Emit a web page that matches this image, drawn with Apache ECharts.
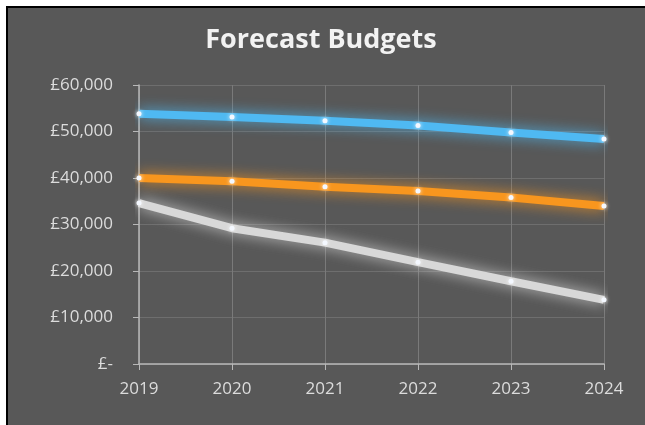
<!DOCTYPE html>
<html><head><meta charset="utf-8">
<script src="https://cdn.jsdelivr.net/npm/echarts@6/dist/echarts.min.js"></script>
<style>html,body{margin:0;padding:0;background:#fff;}#c{width:645px;height:425px;}</style>
</head><body><div id="c"></div>
<script>
const years = ['2019','2020','2021','2022','2023','2024'];
const blueSeries = [53800, 53100, 52300, 51300, 49800, 48400];
const orangeSeries = [40000, 39300, 38100, 37200, 35800, 34000];
const whiteSeries = [34600, 29200, 26100, 21900, 17800, 13800];
const yTicks = [0, 10000, 20000, 30000, 40000, 50000, 60000];

const chart = echarts.init(document.getElementById('c'), null, {renderer:'canvas'});
function mk(name, data, color, glow){
  return {
    name, type:'line', data, symbol:'circle', symbolSize:5,
    itemStyle:{color:'#f4f8ff', shadowColor:'#ffffff', shadowBlur:4},
    lineStyle:{color, width:8, shadowColor:glow, shadowBlur:14},
    z: 3
  };
}
chart.setOption({
  backgroundColor:'#585858',
  animation:false,
  graphic:[
    {type:'rect', shape:{x:0,y:0,width:645,height:6}, style:{fill:'#fff'}, z:100},
    {type:'rect', shape:{x:0,y:0,width:6,height:425}, style:{fill:'#fff'}, z:100},
    {type:'rect', shape:{x:6,y:6,width:639,height:2}, style:{fill:'#000'}, z:100},
    {type:'rect', shape:{x:6,y:6,width:2,height:419}, style:{fill:'#000'}, z:100}
  ],
  title:{text:'Forecast Budgets', left:316, top:22, textAlign:'center',
    textStyle:{color:'#f2f2f2', fontFamily:'Open Sans', fontWeight:'bold', fontSize:27}},
  grid:{left:139, right:41, top:85, bottom:61},
  xAxis:{type:'category', data:years, boundaryGap:false,
    axisLine:{lineStyle:{color:'#b8b8b8', width:1.5}},
    axisTick:{show:true, length:6, lineStyle:{color:'#b8b8b8'}},
    axisLabel:{color:'#dcdcdc', fontSize:17, fontFamily:'Open Sans', margin:17},
    splitLine:{show:true, lineStyle:{color:'#7a7a7a', width:1}}},
  yAxis:{type:'value', min:yTicks[0], max:yTicks[yTicks.length-1], interval:10000,
    axisLine:{show:true, lineStyle:{color:'#b8b8b8', width:1.5}},
    axisTick:{show:true, length:6, lineStyle:{color:'#b8b8b8'}},
    axisLabel:{color:'#dcdcdc', fontSize:17, fontFamily:'Open Sans', margin:26,
      formatter:v => v===0 ? '£-' : '£' + v.toLocaleString('en-GB')},
    splitLine:{show:true, lineStyle:{color:'#6e6e6e', width:1}}},
  series:[
    mk('Blue', blueSeries, '#4fb9f2', 'rgba(79,185,242,0.9)'),
    mk('Orange', orangeSeries, '#f8961e', 'rgba(248,150,30,0.9)'),
    mk('White', whiteSeries, '#d8d8d8', 'rgba(230,230,230,0.8)')
  ]
});
</script></body></html>
